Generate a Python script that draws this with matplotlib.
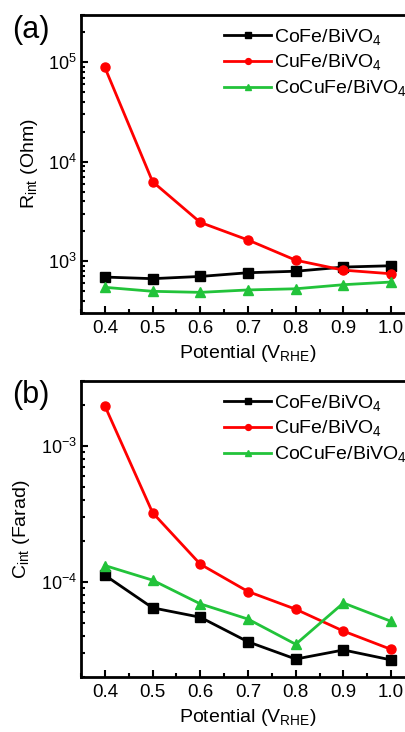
import matplotlib
matplotlib.use("Agg")
import matplotlib.pyplot as plt
from matplotlib.ticker import LogLocator, MultipleLocator, NullFormatter

plt.rcParams['font.family'] = ['Liberation Sans', 'DejaVu Sans']
plt.rcParams['mathtext.fontset'] = 'custom'
plt.rcParams['mathtext.rm'] = 'Liberation Sans'
plt.rcParams['mathtext.it'] = 'Liberation Sans'

potential = [0.4, 0.5, 0.6, 0.7, 0.8, 0.9, 1.0]
labels = ["CoFe/BiVO$_4$", "CuFe/BiVO$_4$", "CoCuFe/BiVO$_4$"]
colors = ["black", "#FF0000", "#22C33A"]
markers = ["s", "o", "^"]

# (a) interfacial resistance, Ohm
r_cofe = [690, 665, 700, 763, 790, 870, 897]
r_cufe = [89000, 6300, 2450, 1630, 1020, 810, 745]
r_cocufe = [544, 496, 484, 512, 526, 578, 615]

# (b) interfacial capacitance, Farad
c_cofe = [1.12e-4, 6.45e-5, 5.5e-5, 3.63e-5, 2.71e-5, 3.16e-5, 2.67e-5]
c_cufe = [1.97e-3, 3.23e-4, 1.35e-4, 8.5e-5, 6.3e-5, 4.35e-5, 3.19e-5]
c_cocufe = [1.32e-4, 1.03e-4, 6.9e-5, 5.33e-5, 3.48e-5, 7.0e-5, 5.13e-5]

W, H = 406, 732
fig = plt.figure(figsize=(W / 100, H / 100), dpi=100)
ax1 = fig.add_axes([81 / W, (H - 313) / H, (415 - 81) / W, (313 - 15) / H])
ax2 = fig.add_axes([81 / W, (H - 677) / H, (415 - 81) / W, (677 - 381) / H])


def style(ax, ylim, ylabel):
    ax.set_yscale('log')
    ax.set_xlim(0.35, 1.05)
    ax.set_ylim(*ylim)
    ax.xaxis.set_major_locator(MultipleLocator(0.1))
    ax.xaxis.set_minor_locator(MultipleLocator(0.05))
    ax.yaxis.set_major_locator(LogLocator(base=10))
    ax.yaxis.set_minor_locator(LogLocator(base=10, subs=range(2, 10)))
    ax.yaxis.set_minor_formatter(NullFormatter())
    ax.tick_params(which='both', direction='in', width=1.5, top=False, right=False)
    ax.tick_params(axis='x', labelsize=13.5, pad=5)
    ax.tick_params(axis='y', labelsize=13, pad=3)
    ax.tick_params(which='major', length=5)
    ax.tick_params(which='minor', length=3)
    for s in ax.spines.values():
        s.set_linewidth(2)
    ax.set_xlabel("Potential (V$_{\\rm RHE}$)", fontsize=14, labelpad=4)
    ax.set_ylabel(ylabel, fontsize=14, labelpad=6)
    ax.legend(loc='upper right', frameon=False, fontsize=14, handlelength=2.4,
              handletextpad=0.15, labelspacing=0.3, borderaxespad=0.2,
              markerscale=0.65, bbox_to_anchor=(1.01, 1.0))


for ax, series in [(ax1, [r_cofe, r_cufe, r_cocufe]), (ax2, [c_cofe, c_cufe, c_cocufe])]:
    for vals, lab, col, mk in zip(series, labels, colors, markers):
        ax.plot(potential, vals, color=col, marker=mk, lw=2, ms=6.5, label=lab)

style(ax1, (300, 3e5), "R$_{\\rm int}$ (Ohm)")
style(ax2, (2e-5, 3e-3), "C$_{\\rm int}$ (Farad)")

fig.text(12 / W, 1 - 30 / H, "(a)", fontsize=22, va='center')
fig.text(12 / W, 1 - 395 / H, "(b)", fontsize=22, va='center')

fig.savefig("out.png", dpi=100)
